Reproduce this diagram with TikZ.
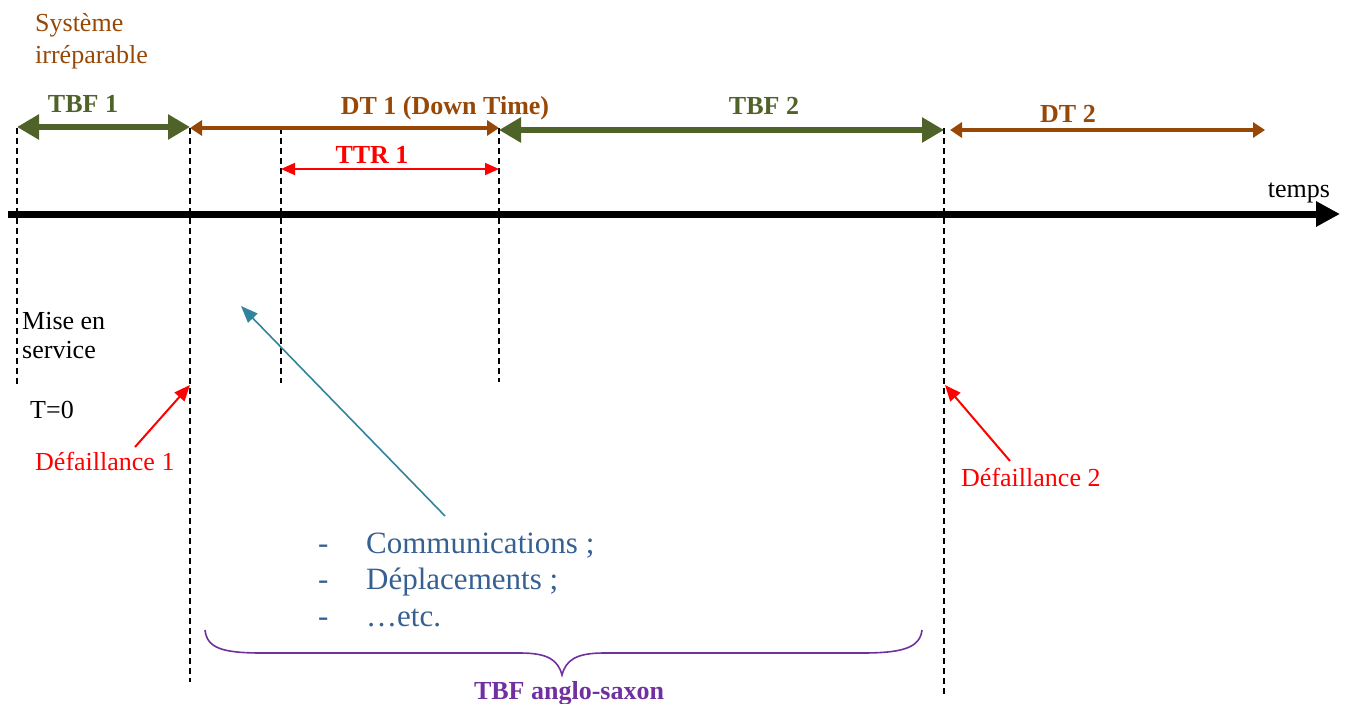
\documentclass[tikz,border=0pt]{standalone}
\usepackage{fontspec}
\setmainfont{Liberation Serif}
\usetikzlibrary{arrows.meta}
\definecolor{tgreen}{HTML}{4F6228}
\definecolor{tbrown}{HTML}{984806}
\definecolor{tred}{HTML}{FF0000}
\definecolor{tpurple}{HTML}{7030A0}
\definecolor{tteal}{HTML}{31849B}
\definecolor{tblue}{HTML}{376092}
\begin{document}
\begin{tikzpicture}[x=1pt,y=-1pt,
  guide/.style={draw=black, line width=1.4pt, dash pattern=on 6pt off 4pt},
  greenarrow/.style={draw=tgreen, line width=6.5pt, >={Triangle[length=22pt,width=24pt]}, <->},
  brownarrow/.style={draw=tbrown, line width=4pt, >={Triangle[length=12pt,width=15pt]}, <->},
  redarrow/.style={draw=tred, line width=1.8pt, >={Triangle[length=14pt,width=12pt]}, <->},
  pointer/.style={draw=tred, line width=2pt, -{Triangle[length=16pt,width=13pt]}},
  tealpointer/.style={draw=tteal, line width=1.6pt, -{Triangle[length=17pt,width=13pt]}},
  timeline/.style={draw=black, line width=7pt, -{Triangle[length=24pt,width=24pt]}},
  txt/.style={font=\fontsize{26}{30}\selectfont, inner sep=0pt},
  btxt/.style={font=\fontsize{26}{30}\selectfont\bfseries, inner sep=0pt},
  ltxt/.style={font=\fontsize{31}{36}\selectfont, inner sep=0pt, text=tblue, anchor=base west},
  brace/.style={draw=tpurple, line width=1.6pt}
]
\useasboundingbox (0,0) rectangle (1347,704);

% guide coordinates
\coordinate (g0t) at (17,128);  \coordinate (g0b) at (17,385);
\coordinate (g1t) at (190,128); \coordinate (g1b) at (190,682);
\coordinate (g2t) at (281,128); \coordinate (g2b) at (281,383);
\coordinate (g3t) at (499,128); \coordinate (g3b) at (499,382);
\coordinate (g4t) at (944,128); \coordinate (g4b) at (944,695);

\draw[guide] (g0t) -- (g0b);
\draw[guide] (g1t) -- (g1b);
\draw[guide] (g2t) -- (g2b);
\draw[guide] (g3t) -- (g3b);
\draw[guide] (g4t) -- (g4b);

% timeline
\coordinate (tl0) at (8,214);
\coordinate (tl1) at (1340,214);
\draw[timeline] (tl0) -- (tl1);
\node[txt, anchor=base] (temps) at (1299,197) {temps};

% interval arrows
\coordinate (a0) at (17,127);
\coordinate (a1) at (190,127);
\coordinate (b0) at (190,128);
\coordinate (b1) at (499,128);
\coordinate (c0) at (499,130);
\coordinate (c1) at (944,130);
\coordinate (d0) at (950,130);
\coordinate (d1) at (1265,130);
\coordinate (e0) at (281,169);
\coordinate (e1) at (499,169);

\draw[brownarrow] (b0) -- (b1);
\draw[brownarrow] (d0) -- (d1);
\draw[greenarrow] (a0) -- (a1);
\draw[greenarrow] (c0) -- (c1);
\draw[redarrow] (e0) -- (e1);

\node[btxt, text=tgreen, anchor=base] (tbf1) at (83,112) {TBF 1};
\node[btxt, text=tbrown, anchor=base] (dt1) at (445,114) {DT 1 (Down Time)};
\node[btxt, text=tgreen, anchor=base] (tbf2) at (764,114) {TBF 2};
\node[btxt, text=tbrown, anchor=base] (dt2) at (1068,122) {DT 2};
\node[btxt, text=tred, anchor=base] (ttr1) at (372,163) {TTR 1};

% top-left label
\node[txt, text=tbrown, anchor=base west] (sys1) at (35,31) {Système};
\node[txt, text=tbrown, anchor=base west] (sys2) at (35,63) {irréparable};

% left labels
\node[txt, anchor=base west] (mise1) at (22,329) {Mise en};
\node[txt, anchor=base west] (mise2) at (22,358) {service};
\node[txt, anchor=base west] (t0) at (30,418) {T=0};

% failures
\node[txt, text=tred, anchor=base west] (def1) at (35,470) {Défaillance 1};
\node[txt, text=tred, anchor=base west] (def2) at (961,486) {Défaillance 2};
\coordinate (p1s) at (135,447);
\coordinate (p1e) at (190,385);
\coordinate (p2s) at (1010,461);
\coordinate (p2e) at (945,385);
\draw[pointer] (p1s) -- (p1e);
\draw[pointer] (p2s) -- (p2e);

% list
\node[ltxt] (d1) at (318,553) {-};
\node[ltxt] (l1) at (366,553) {Communications ;};
\node[ltxt] (d2) at (318,589) {-};
\node[ltxt] (l2) at (366,589) {Déplacements ;};
\node[ltxt] (d3) at (318,626) {-};
\node[ltxt] (l3) at (366,626) {…etc.};

\coordinate (ts) at (445,516);
\coordinate (te) at (241,306);
\draw[tealpointer] (ts) -- (te);

% brace
\coordinate (bl) at (205,630);
\coordinate (bt) at (562,675);
\coordinate (br) at (922,630);
\draw[brace] (bl) .. controls (207,648) and (222,653) .. (262,653)
  -- (520,653) .. controls (548,653) and (558,660) .. (bt)
  .. controls (566,660) and (576,653) .. (604,653)
  -- (862,653) .. controls (902,653) and (920,648) .. (br);
\node[btxt, text=tpurple, anchor=base] (tbfas) at (569,699) {TBF anglo-saxon};
\end{tikzpicture}
\end{document}
